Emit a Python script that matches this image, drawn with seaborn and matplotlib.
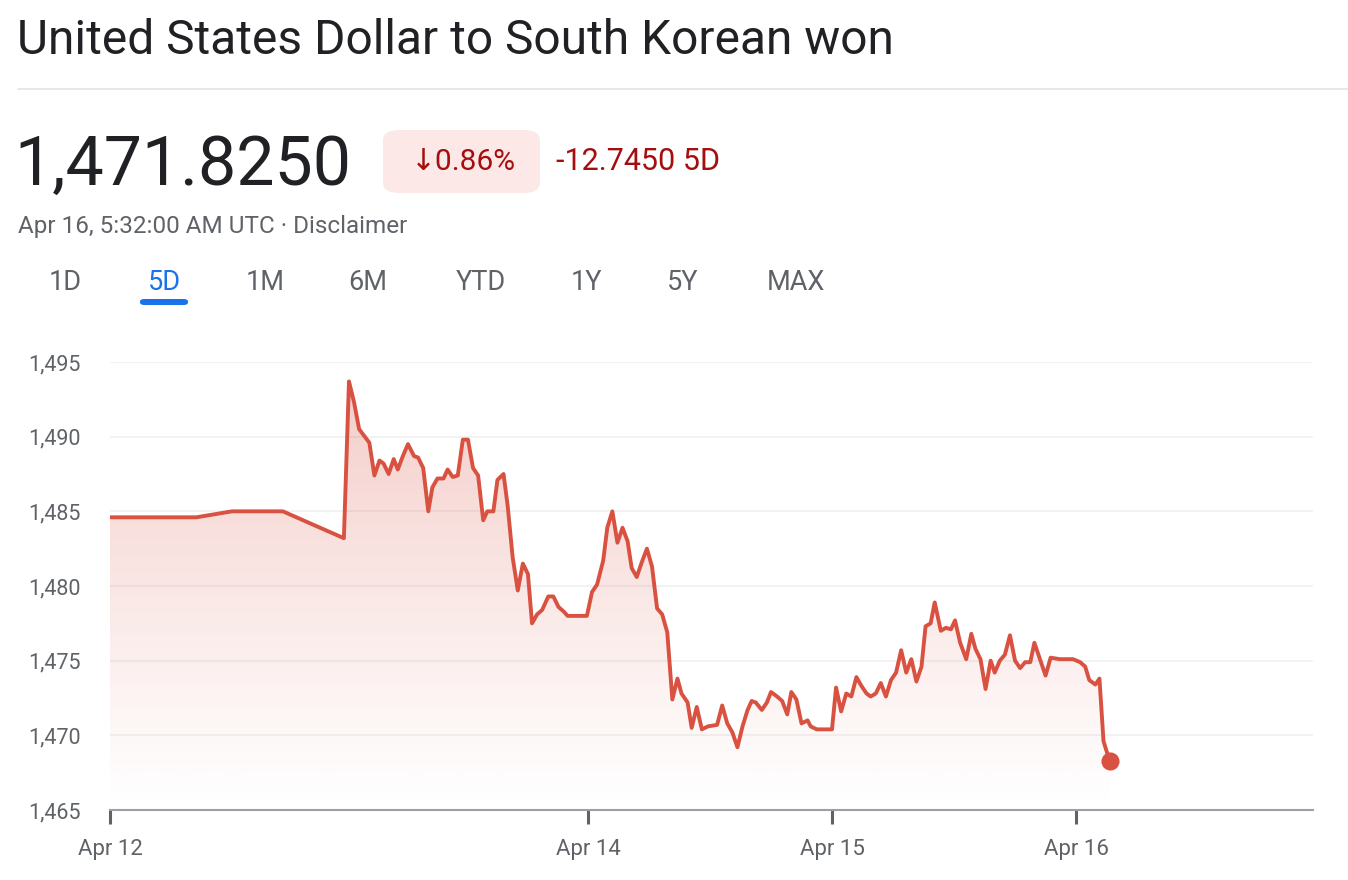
import numpy as np
import pandas as pd
import matplotlib.pyplot as plt
import seaborn as sns
from matplotlib.patches import FancyBboxPatch

sns.set_theme(style='white')
plt.rcParams['font.family'] = ['Roboto', 'DejaVu Sans']

# 数据：时间（小时，Apr 12 刻度为 0）与汇率
hours = [0, 8.5, 12, 17, 23.0, 23.5, 24.0, 24.5, 25.5, 26.0, 26.5, 26.9, 27.4, 27.9, 28.3,
         28.8, 29.3, 29.9, 30.3, 30.8, 31.3, 31.7, 32.2, 32.8, 33.2, 33.7, 34.2, 34.7, 35.2,
         35.7, 36.2, 36.7, 37.1, 37.7, 38.1, 38.7, 39.1, 39.6, 40.1, 40.6, 41.1, 41.5, 42.0,
         42.5, 43.1, 43.6, 44.1, 44.6, 45.0, 46.9,
         47.4, 47.9, 48.5, 48.9, 49.4, 49.9, 50.4, 50.9, 51.3, 51.8, 52.3, 52.8, 53.3, 53.8,
         54.3, 54.8, 55.3, 55.8, 56.2, 56.8, 57.2, 57.7, 58.2, 58.8, 59.7, 60.2, 60.7, 61.2,
         61.7, 62.2, 62.7, 63.1, 63.5, 64.1, 64.6, 65.0, 65.6, 66.1, 66.6, 67.0, 67.5, 68.0,
         68.6, 68.9, 69.5, 71.0,
         71.4, 71.9, 72.4, 72.9, 73.4, 73.9, 74.4, 74.8, 75.3, 75.8, 76.3, 76.8, 77.3, 77.8,
         78.3, 78.8, 79.3, 79.8, 80.2, 80.7, 81.1, 81.7, 82.2, 82.7, 83.1, 83.6, 84.2, 84.7,
         85.1, 85.6, 86.1, 86.6, 87.0, 87.5, 88.0, 88.5, 89.0, 89.5, 90.0, 90.5, 90.9, 91.5,
         92.0, 92.5, 93.4, 94.7, 95.4, 95.9, 96.3, 96.9, 97.3, 97.7, 98.3]
rate = [1484.6, 1484.6, 1485.0, 1485.0, 1483.2, 1493.7, 1492.3, 1490.5, 1489.6, 1487.4, 1488.4,
        1488.2, 1487.5, 1488.5, 1487.8, 1488.7, 1489.5, 1488.7, 1488.6, 1487.9, 1485.0, 1486.6,
        1487.2, 1487.2, 1487.8, 1487.3, 1487.4, 1489.8, 1489.8, 1487.9, 1487.4, 1484.4, 1485.0,
        1485.0, 1487.1, 1487.5, 1485.4, 1481.9, 1479.7, 1481.5, 1480.8, 1477.5, 1478.1, 1478.4,
        1479.3, 1479.3, 1478.6, 1478.3, 1478.0, 1478.0,
        1479.6, 1480.1, 1481.7, 1483.9, 1485.0, 1482.9, 1483.9, 1483.0, 1481.2, 1480.6, 1481.6,
        1482.5, 1481.3, 1478.5, 1478.1, 1476.9, 1472.4, 1473.8, 1472.8, 1472.2, 1470.5, 1471.9,
        1470.4, 1470.6, 1470.7, 1472.0, 1470.8, 1470.2, 1469.2, 1470.6, 1471.7, 1472.3, 1472.2,
        1471.7, 1472.2, 1472.9, 1472.6, 1472.3, 1471.4, 1472.9, 1472.4, 1470.8, 1471.0, 1470.6,
        1470.4, 1470.4,
        1473.2, 1471.6, 1472.8, 1472.6, 1473.9, 1473.3, 1472.8, 1472.6, 1472.8, 1473.5, 1472.6,
        1473.7, 1474.2, 1475.7, 1474.2, 1475.1, 1473.6, 1474.6, 1477.3, 1477.5, 1478.9, 1477.0,
        1477.2, 1477.1, 1477.7, 1476.2, 1475.1, 1476.8, 1475.8, 1475.1, 1473.1, 1475.0, 1474.2,
        1475.0, 1475.4, 1476.7, 1475.0, 1474.5, 1474.9, 1474.9, 1476.2, 1475.0, 1474.0, 1475.2,
        1475.1, 1475.1, 1474.9, 1474.6, 1473.7, 1473.4, 1473.8, 1469.6, 1468.3]

tick_pos = [0, 47, 71, 95]
tick_labels = ['Apr 12', 'Apr 14', 'Apr 15', 'Apr 16']
y_ticks = [1465, 1470, 1475, 1480, 1485, 1490, 1495]
tabs = ['1D', '5D', '1M', '6M', 'YTD', '1Y', '5Y', 'MAX']
tab_x = [65, 164, 265, 368, 481, 586, 683, 796]

df = pd.DataFrame({'t': hours, 'rate': rate})

RED = '#d95140'
GRAY = '#5f6368'
W, H = 1348, 880

fig = plt.figure(figsize=(W / 100, H / 100), dpi=100)
fig.patch.set_facecolor('white')


def fx(px):
    return px / W


def fy(py):
    return 1 - py / H


# 标题区域
fig.text(fx(17), fy(41), 'United States Dollar to South Korean won', fontsize=34.5,
         color='#202124', va='center', ha='left')
fig.add_artist(plt.Line2D([fx(18), 1], [fy(89), fy(89)], color='#e3e3e3', lw=1.2))
fig.text(fx(14), fy(166), '1,471.8250', fontsize=49, color='#202124', va='center', ha='left')
badge = FancyBboxPatch((fx(383), fy(193)), fx(540) - fx(383), fy(130) - fy(193),
                       boxstyle='round,pad=0,rounding_size=0.012', transform=fig.transFigure,
                       facecolor='#fce8e6', edgecolor='none')
fig.add_artist(badge)
fig.text(fx(463), fy(162), '↓0.86%', fontsize=21.5, color='#a50e0e', va='center', ha='center')
fig.text(fx(556), fy(162), '-12.7450 5D', fontsize=22, color='#a50e0e', va='center', ha='left')
fig.text(fx(18), fy(226), 'Apr 16, 5:32:00 AM UTC · Disclaimer', fontsize=17.5, color=GRAY,
         va='center', ha='left')
for lab, x in zip(tabs, tab_x):
    c = '#1a73e8' if lab == '5D' else GRAY
    fig.text(fx(x), fy(283), lab, fontsize=19.5, color=c, va='center', ha='center')
under = FancyBboxPatch((fx(140), fy(305)), fx(188) - fx(140), fy(299) - fy(305),
                       boxstyle='round,pad=0,rounding_size=0.003', transform=fig.transFigure,
                       facecolor='#1a73e8', edgecolor='none')
fig.add_artist(under)

# 图表
ax = fig.add_axes([fx(110), fy(810), fx(1313) - fx(110), fy(362) - fy(810)])
xmax = 118.3
ymin, ymax = 1465, 1495

for yv in y_ticks[1:]:
    ax.axhline(yv, color='#f1f1f1', lw=1.3, zorder=0)

poly = ax.fill_between(df['t'], df['rate'], ymin, color='none', lw=0)
grad_y = np.linspace(0, 1, 256).reshape(-1, 1)
rgba = np.zeros((256, 1, 4))
rgba[..., 0] = 217 / 255
rgba[..., 1] = 80 / 255
rgba[..., 2] = 64 / 255
rgba[..., 3] = 0.3 * grad_y ** 1.1
img = ax.imshow(rgba, extent=[0, xmax, ymin, ymax], origin='lower', aspect='auto', zorder=1)
img.set_clip_path(poly.get_paths()[0], transform=ax.transData)

sns.lineplot(data=df, x='t', y='rate', ax=ax, color=RED, lw=2.8, zorder=3)
ax.scatter(df['t'].iloc[-1], df['rate'].iloc[-1], s=170, color=RED, zorder=4, linewidths=0)

ax.set_xlim(0, xmax)
ax.set_ylim(ymin, ymax)
ax.set_xlabel('')
ax.set_ylabel('')
for s in ['top', 'right', 'left']:
    ax.spines[s].set_visible(False)
ax.spines['bottom'].set_color('#9aa0a6')
ax.spines['bottom'].set_linewidth(1.5)
ax.set_xticks(tick_pos)
ax.set_xticklabels(tick_labels)
ax.set_yticks(y_ticks)
ax.set_yticklabels([f'{v:,}' for v in y_ticks])
ax.tick_params(axis='x', bottom=True, length=10, width=2.2, color=GRAY, labelsize=16,
               labelcolor=GRAY, pad=11)
ax.tick_params(axis='y', left=False, labelsize=15.5, labelcolor=GRAY, pad=15)

fig.savefig('out.png', dpi=100)
